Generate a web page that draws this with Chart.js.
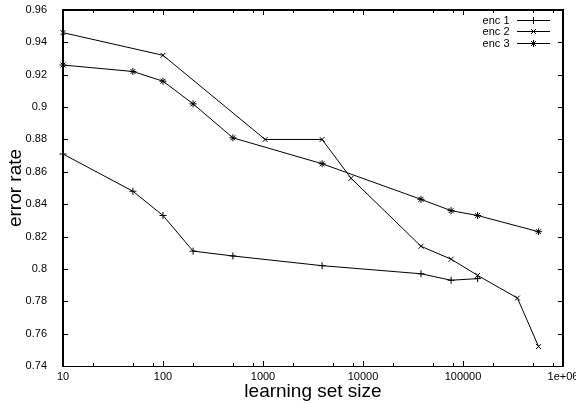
<!DOCTYPE html>
<html lang="en">
  <head>
    <meta charset="UTF-8" />
    <title>error rate vs learning set size</title>
    <style>
      html, body { margin: 0; padding: 0; background: #fff; }
      #wrap { width: 576px; height: 403px; }
    </style>
  </head>
  <body>
    <div id="wrap"><canvas id="myChart" width="576" height="403"></canvas></div>

    <script src="https://cdn.jsdelivr.net/npm/chart.js"></script>
    <script>
      // values
      const enc1X = [10, 50, 100, 200, 500, 3900, 38000, 76000, 140000];
      const enc1Y = [0.871, 0.848, 0.833, 0.811, 0.808, 0.802, 0.797, 0.793, 0.794];

      const enc2X = [10, 100, 1050, 3900, 7600, 38000, 76000, 140000, 350000, 570000];
      const enc2Y = [0.946, 0.932, 0.880, 0.880, 0.856, 0.814, 0.806, 0.796, 0.782, 0.752];

      const enc3X = [10, 50, 100, 200, 500, 3900, 38000, 76000, 140000, 570000];
      const enc3Y = [0.926, 0.922, 0.916, 0.902, 0.881, 0.865, 0.843, 0.836, 0.833, 0.823];

      const seriesNames = ["enc 1", "enc 2", "enc 3"];
      const pointStyles = ["cross", "crossRot", "star"];

      const xMajorTicks = [10, 100, 1000, 10000, 100000, 1000000];
      const xTickLabels = ["10", "100", "1000", "10000", "100000", "1e+06"];
      const xMinorSteps = [2, 5, 8];
      const yTicks = [0.74, 0.76, 0.78, 0.8, 0.82, 0.84, 0.86, 0.88, 0.9, 0.92, 0.94, 0.96];

      const FONT = "'Liberation Sans', Arial, sans-serif";

      function toPoints(xs, ys) {
        return xs.map((x, i) => ({ x: x, y: ys[i] }));
      }

      const allX = [enc1X, enc2X, enc3X];
      const allY = [enc1Y, enc2Y, enc3Y];

      const datasets = seriesNames.map((name, i) => ({
        label: name,
        data: toPoints(allX[i], allY[i]),
        borderColor: "#000",
        backgroundColor: "#000",
        borderWidth: 1,
        pointStyle: pointStyles[i],
        pointRadius: 3.5,
        pointBorderWidth: 1,
        pointBorderColor: "#000",
        tension: 0,
        fill: false,
        clip: false
      }));

      // frame, inward ticks, x labels, legend in gnuplot style
      const gnuplotBits = {
        id: "gnuplotBits",
        afterDatasetsDraw(chart) {
          const ctx = chart.ctx;
          const xs = chart.scales.x;
          const ys = chart.scales.y;
          const L = Math.round(xs.getPixelForValue(10));
          const R = Math.round(xs.getPixelForValue(1000000));
          const T = Math.round(ys.getPixelForValue(0.96));
          const B = Math.round(ys.getPixelForValue(0.74));
          ctx.save();
          ctx.strokeStyle = "#000";
          ctx.lineWidth = 1;

          // y ticks, both sides
          ctx.beginPath();
          yTicks.forEach(v => {
            const py = Math.round(ys.getPixelForValue(v)) + 0.5;
            ctx.moveTo(L, py); ctx.lineTo(L + 5, py);
            ctx.moveTo(R, py); ctx.lineTo(R - 5, py);
          });
          // x major ticks, top and bottom
          xMajorTicks.forEach(v => {
            const px = Math.round(xs.getPixelForValue(v)) + 0.5;
            ctx.moveTo(px, B); ctx.lineTo(px, B - 5);
            ctx.moveTo(px, T); ctx.lineTo(px, T + 5);
          });
          // x minor ticks
          xMajorTicks.slice(0, -1).forEach(d => {
            xMinorSteps.forEach(m => {
              const px = Math.round(xs.getPixelForValue(d * m)) + 0.5;
              ctx.moveTo(px, B); ctx.lineTo(px, B - 3);
              ctx.moveTo(px, T); ctx.lineTo(px, T + 3);
            });
          });
          ctx.stroke();

          // frame
          ctx.lineWidth = 2;
          ctx.beginPath();
          ctx.moveTo(L, B);
          ctx.lineTo(L, T);
          ctx.lineTo(R, T);
          ctx.lineTo(R, B);
          ctx.stroke();
          ctx.lineWidth = 1;
          ctx.beginPath();
          ctx.moveTo(L - 1, B + 0.5);
          ctx.lineTo(R + 1, B + 0.5);
          ctx.stroke();

          // x tick labels
          ctx.fillStyle = "#000";
          ctx.font = "11px " + FONT;
          ctx.textAlign = "center";
          ctx.textBaseline = "middle";
          xMajorTicks.forEach((v, i) => {
            ctx.fillText(xTickLabels[i], xs.getPixelForValue(v), B + 11);
          });

          // legend: text, then line sample with marker
          const rowY = [20, 31, 43];
          chart.data.datasets.forEach((ds, i) => {
            const y = rowY[i] + 0.5;
            ctx.textAlign = "right";
            ctx.fillText(ds.label, 509.5, y);
            ctx.lineWidth = 1;
            ctx.beginPath();
            ctx.moveTo(517, y);
            ctx.lineTo(550, y);
            ctx.stroke();
            Chart.helpers.drawPoint(ctx, { pointStyle: ds.pointStyle, radius: 3.5, borderWidth: 1, rotation: 0 }, 533.5, y);
          });
          ctx.restore();
        }
      };

      const ctx = document.getElementById("myChart").getContext("2d");
      const chart = new Chart(ctx, {
        type: "line",
        data: { datasets: datasets },
        plugins: [gnuplotBits],
        options: {
          responsive: false,
          animation: false,
          devicePixelRatio: 1,
          layout: { padding: { top: 10, right: 13, left: 0, bottom: 0 } },
          plugins: {
            legend: { display: false },
            tooltip: { enabled: false }
          },
          scales: {
            x: {
              type: "logarithmic",
              min: 10,
              max: 1000000,
              grid: { display: false },
              border: { display: false },
              ticks: { display: false },
              title: {
                display: true,
                text: "learning set size",
                color: "#000",
                font: { family: FONT, size: 19 },
                padding: { top: 0, bottom: 0 }
              },
              afterFit: s => { s.height = 37; s.paddingLeft = 0; s.paddingRight = 0; }
            },
            y: {
              type: "linear",
              min: 0.74,
              max: 0.96,
              grid: { display: false },
              border: { display: false },
              ticks: {
                stepSize: 0.02,
                color: "#000",
                padding: 8,
                font: { family: FONT, size: 11 },
                callback: v => String(+v.toFixed(2))
              },
              title: {
                display: true,
                text: "error rate",
                color: "#000",
                font: { family: FONT, size: 19 },
                padding: { top: 4, bottom: 0 }
              },
              afterFit: s => { s.width = 63; s.paddingTop = 0; s.paddingBottom = 0; }
            }
          }
        }
      });
    </script>
  </body>
</html>
